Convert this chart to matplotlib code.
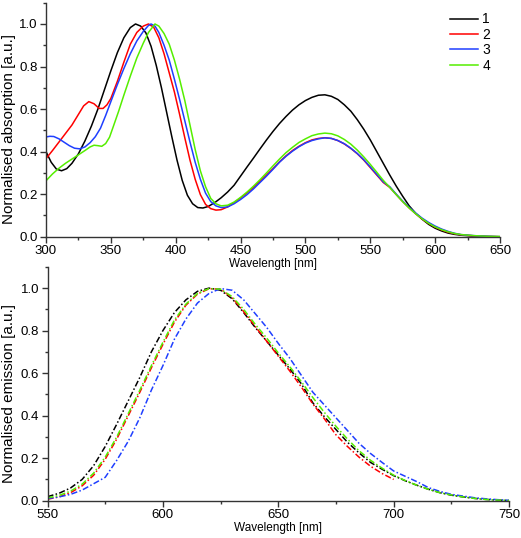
import matplotlib
matplotlib.use("Agg")
import matplotlib.pyplot as plt
from matplotlib.ticker import MultipleLocator

plt.rcParams['font.family'] = ['Liberation Sans', 'DejaVu Sans']

# ---------------- absorption data ----------------
abs1_x = [300, 304, 308, 312, 316, 320, 325, 330, 335, 340, 345, 350, 355, 360, 365, 369, 373, 377, 381, 385,
          389, 393, 397, 401, 405, 409, 413, 417, 421, 425, 430, 435, 440, 445, 450, 455, 460, 465, 470, 475,
          480, 485, 490, 495, 500, 505, 510, 515, 520, 525, 530, 535, 540, 545, 550, 555, 560, 565, 570, 575,
          580, 585, 590, 595, 600, 605, 610, 615, 620, 630, 640, 650]
abs1_y = [0.40, 0.35, 0.318, 0.31, 0.32, 0.345, 0.39, 0.45, 0.52, 0.60, 0.69, 0.78, 0.865, 0.935, 0.983, 1.0, 0.99, 0.958, 0.895, 0.805,
          0.70, 0.585, 0.47, 0.36, 0.265, 0.195, 0.155, 0.137, 0.135, 0.142, 0.16, 0.183, 0.21, 0.242, 0.285, 0.328, 0.37, 0.413, 0.455, 0.495,
          0.532, 0.565, 0.595, 0.62, 0.64, 0.655, 0.665, 0.667, 0.66, 0.645, 0.62, 0.59, 0.55, 0.505, 0.455, 0.40, 0.345, 0.29, 0.238, 0.19,
          0.145, 0.11, 0.082, 0.058, 0.04, 0.027, 0.017, 0.011, 0.007, 0.003, 0.001, 0.0]

abs2_x = [300, 305, 310, 315, 320, 325, 329, 333, 337, 341, 344, 347, 350, 355, 360, 365, 370, 375, 379, 383,
          387, 391, 395, 399, 403, 407, 411, 415, 419, 423, 427, 431, 435, 440, 445, 450, 455, 460, 465, 470,
          475, 480, 485, 490, 495, 500, 505, 510, 515, 520, 525, 530, 535, 540, 545, 550, 555, 560, 565, 570,
          575, 580, 585, 590, 595, 600, 605, 610, 615, 620, 630, 640, 650]
abs2_y = [0.367, 0.405, 0.445, 0.485, 0.525, 0.575, 0.615, 0.635, 0.625, 0.603, 0.603, 0.62, 0.65, 0.73, 0.82, 0.905, 0.96, 0.99, 1.0, 0.985,
          0.935, 0.86, 0.77, 0.68, 0.575, 0.465, 0.36, 0.27, 0.198, 0.152, 0.132, 0.125, 0.127, 0.14, 0.16, 0.182, 0.206, 0.232, 0.26, 0.29,
          0.32, 0.352, 0.38, 0.405, 0.425, 0.442, 0.455, 0.462, 0.465, 0.462, 0.452, 0.436, 0.415, 0.39, 0.36, 0.325, 0.29, 0.255, 0.232, 0.198,
          0.165, 0.135, 0.108, 0.083, 0.063, 0.045, 0.032, 0.021, 0.014, 0.009, 0.004, 0.001, 0.0]

abs3_x = [300, 303, 306, 310, 314, 318, 322, 326, 330, 334, 338, 342, 346, 350, 355, 360, 365, 370, 375, 379,
          381, 384, 387, 391, 395, 399, 403, 407, 411, 415, 419, 423, 427, 431, 435, 440, 445, 450, 455, 460,
          465, 470, 475, 480, 485, 490, 495, 500, 505, 510, 515, 520, 525, 530, 535, 540, 545, 550, 555, 560,
          565, 570, 575, 580, 585, 590, 595, 600, 605, 610, 615, 620, 630, 640, 650]
abs3_y = [0.469, 0.472, 0.471, 0.46, 0.444, 0.428, 0.416, 0.413, 0.422, 0.442, 0.47, 0.51, 0.57, 0.635, 0.715, 0.79, 0.86, 0.92, 0.965, 0.993,
          1.0, 0.99, 0.96, 0.90, 0.83, 0.74, 0.645, 0.545, 0.445, 0.35, 0.27, 0.205, 0.165, 0.145, 0.137, 0.14, 0.155, 0.175, 0.198, 0.225,
          0.255, 0.285, 0.317, 0.35, 0.378, 0.402, 0.423, 0.44, 0.452, 0.46, 0.465, 0.462, 0.452, 0.437, 0.416, 0.391, 0.362, 0.328, 0.293, 0.258,
          0.235, 0.2, 0.167, 0.138, 0.111, 0.087, 0.067, 0.05, 0.036, 0.025, 0.016, 0.01, 0.005, 0.002, 0.0]

abs4_x = [300, 305, 310, 315, 320, 325, 330, 334, 337, 340, 343, 346, 349, 352, 356, 360, 365, 370, 375, 379,
          384, 387, 391, 395, 399, 403, 407, 411, 415, 419, 423, 427, 431, 435, 440, 445, 450, 455, 460, 465,
          470, 475, 480, 485, 490, 495, 500, 505, 510, 515, 520, 525, 530, 535, 540, 545, 550, 555, 560, 565,
          570, 575, 580, 585, 590, 595, 600, 605, 610, 615, 620, 630, 640, 650]
abs4_y = [0.263, 0.295, 0.322, 0.345, 0.365, 0.385, 0.405, 0.422, 0.43, 0.428, 0.425, 0.438, 0.468, 0.52, 0.59, 0.665, 0.755, 0.84, 0.91, 0.96,
          1.0, 0.99, 0.955, 0.905, 0.83, 0.74, 0.64, 0.525, 0.41, 0.31, 0.235, 0.18, 0.155, 0.145, 0.148, 0.163, 0.185, 0.21, 0.238, 0.268,
          0.30, 0.333, 0.365, 0.395, 0.42, 0.443, 0.46, 0.475, 0.483, 0.487, 0.484, 0.474, 0.457, 0.435, 0.407, 0.375, 0.34, 0.303, 0.265, 0.232,
          0.198, 0.165, 0.135, 0.108, 0.084, 0.063, 0.046, 0.033, 0.023, 0.015, 0.01, 0.005, 0.002, 0.001]

# ---------------- emission data ----------------
em_x = list(range(550, 755, 5))
em1_y = [0.019, 0.035, 0.06, 0.10, 0.165, 0.255, 0.36, 0.47, 0.58, 0.70, 0.80, 0.885, 0.945, 0.985, 1.0, 0.99,
         0.95, 0.885, 0.815, 0.75, 0.685, 0.62, 0.55, 0.46, 0.395, 0.335, 0.275, 0.225, 0.18, 0.148, 0.118, 0.094,
         0.073, 0.054, 0.038, 0.026, 0.018, 0.011, 0.006, 0.003, 0.001]
em2_x = list(range(550, 705, 5))
em2_y = [0.007, 0.018, 0.038, 0.07, 0.12, 0.195, 0.29, 0.40, 0.51, 0.625, 0.735, 0.84, 0.92, 0.972, 0.997, 0.995,
         0.955, 0.89, 0.82, 0.75, 0.68, 0.61, 0.535, 0.455, 0.385, 0.31, 0.255, 0.205, 0.162, 0.128, 0.10]
em3_y = [0.01, 0.018, 0.03, 0.05, 0.08, 0.11, 0.19, 0.28, 0.39, 0.52, 0.635, 0.76, 0.855, 0.93, 0.975, 0.998,
         0.99, 0.945, 0.88, 0.815, 0.74, 0.67, 0.59, 0.51, 0.45, 0.39, 0.33, 0.27, 0.222, 0.18, 0.14, 0.115,
         0.09, 0.062, 0.044, 0.03, 0.022, 0.014, 0.009, 0.005, 0.002]
em4_y = [0.013, 0.025, 0.045, 0.078, 0.13, 0.205, 0.30, 0.41, 0.52, 0.635, 0.745, 0.85, 0.925, 0.975, 0.998, 0.995,
         0.96, 0.90, 0.83, 0.765, 0.695, 0.63, 0.56, 0.485, 0.415, 0.35, 0.29, 0.235, 0.19, 0.153, 0.12, 0.095,
         0.073, 0.054, 0.038, 0.027, 0.018, 0.011, 0.006, 0.003, 0.001]

labels = ['1', '2', '3', '4']
colors = ['#000000', '#ff0000', '#1f3fff', '#55ee00']

fig = plt.figure(figsize=(5.21, 5.38), dpi=100)
ax2 = fig.add_axes([0.0912, 0.0693, 0.977 - 0.0912, 0.504 - 0.0693])
ax1 = fig.add_axes([0.0883, 0.560, 0.9597 - 0.0883, 0.995 - 0.560])
ax2.set_facecolor('none')
ax1.set_facecolor('none')
ax1.set_zorder(3)

def style(ax):
    for s in ['top', 'right']:
        ax.spines[s].set_visible(False)
    for s in ['left', 'bottom']:
        ax.spines[s].set_linewidth(1.0)
        ax.spines[s].set_color('#333333')
    ax.tick_params(which='major', direction='out', length=4, width=1, labelsize=9.5, color='#333333', pad=2)
    ax.tick_params(which='minor', direction='out', length=2.5, width=1, color='#333333')
    ax.set_ylim(0, 1.1)
    ax.yaxis.set_major_locator(MultipleLocator(0.2))
    ax.yaxis.set_minor_locator(MultipleLocator(0.1))
    ax.yaxis.set_major_formatter(plt.FuncFormatter(lambda v, p: f"{v:.1f}"))

abs_x = [abs1_x, abs2_x, abs3_x, abs4_x]
abs_y = [abs1_y, abs2_y, abs3_y, abs4_y]
for xs, ys, c, l in zip(abs_x, abs_y, colors, labels):
    ax1.plot(xs, ys, color=c, lw=1.1, label=l)
style(ax1)
ax1.set_xlim(300, 650)
ax1.xaxis.set_major_locator(MultipleLocator(50))
ax1.xaxis.set_minor_locator(MultipleLocator(25))
ax1.set_xlabel('Wavelength [nm]', fontsize=8.5, labelpad=1)
ax1.set_ylabel('Normalised absorption [a.u.]', fontsize=11)
ax1.yaxis.set_label_coords(-0.066, 0.46)
ax1.legend(loc='upper right', bbox_to_anchor=(1.0, 1.0), frameon=False, fontsize=10,
           handlelength=2.0, handletextpad=0.3, labelspacing=0.1, borderaxespad=0.3)

em_xs = [em_x, em2_x, em_x, em_x]
em_ys = [em1_y, em2_y, em3_y, em4_y]
for xs, ys, c in zip(em_xs, em_ys, colors):
    ax2.plot(xs, ys, color=c, lw=1.1, linestyle=(0, (4, 1.5, 1, 1.5)))
style(ax2)
ax2.set_xlim(550, 750)
ax2.xaxis.set_major_locator(MultipleLocator(50))
ax2.xaxis.set_minor_locator(MultipleLocator(25))
ax2.set_xlabel('Wavelength [nm]', fontsize=8.5, labelpad=1)
ax2.set_ylabel('Normalised emission [a.u.]', fontsize=11)
ax2.yaxis.set_label_coords(-0.068, 0.46)

fig.savefig('out.png', dpi=100, facecolor='white')
